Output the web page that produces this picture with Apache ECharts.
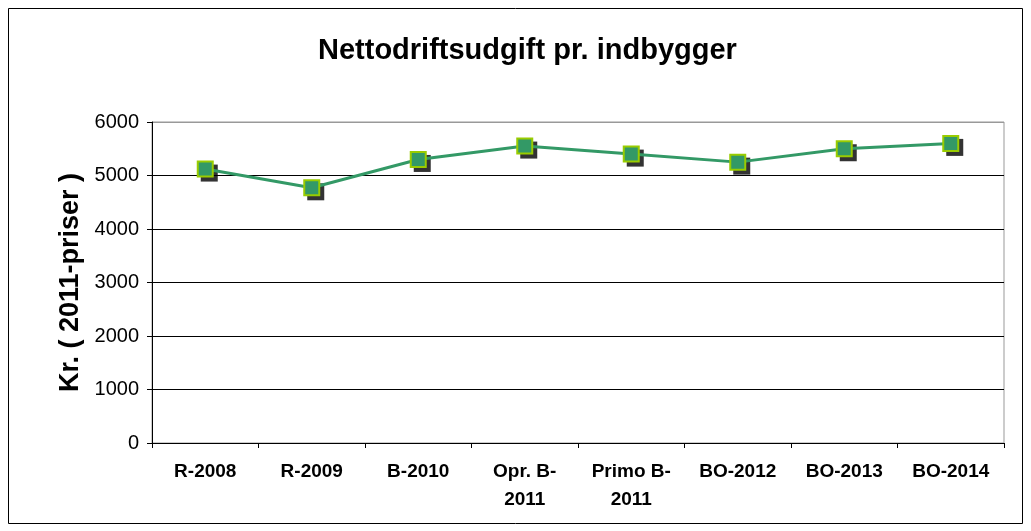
<!DOCTYPE html>
<html>
<head>
<meta charset="utf-8">
<title>Nettodriftsudgift pr. indbygger</title>
<script src="https://cdn.jsdelivr.net/npm/echarts@6/dist/echarts.min.js"></script>
<style>
    html, body { margin: 0; padding: 0; background: #fff; }
</style>
</head>
<body>
<div id="main" style="width: 1031px;height:531px;"></div>
<script type="text/javascript">
    // kategorier og værdier
    var categories = ['R-2008', 'R-2009', 'B-2010', 'Opr. B-\n2011', 'Primo B-\n2011', 'BO-2012', 'BO-2013', 'BO-2014'];
    var values = [5120, 4770, 5300, 5550, 5400, 5250, 5500, 5600];
    var yTicks = [0, 1000, 2000, 3000, 4000, 5000, 6000];

    var myChart = echarts.init(document.getElementById('main'));

    var option = {
        backgroundColor: '#fff',
        animation: false,
        textStyle: { fontFamily: 'Liberation Sans, Arial, sans-serif' },
        title: {
            text: 'Nettodriftsudgift pr. indbygger',
            left: 313,
            top: 31,
            textStyle: { fontSize: 29, fontWeight: 'bold', color: '#000' }
        },
        graphic: [{
            type: 'rect',
            shape: { x: 8.5, y: 8.5, width: 1014, height: 515 },
            style: { fill: null, stroke: '#000', lineWidth: 1 },
            silent: true
        }],
        grid: {
            left: 152,
            right: 27,
            top: 122,
            bottom: 88,
            show: true,
            borderColor: '#999',
            borderWidth: 1
        },
        xAxis: {
            type: 'category',
            data: categories,
            boundaryGap: true,
            axisLine: { lineStyle: { color: '#000', width: 1 } },
            axisTick: { show: true, inside: false, length: 5, lineStyle: { color: '#000' } },
            axisLabel: {
                color: '#000',
                fontSize: 19,
                fontWeight: 'bold',
                margin: 15,
                lineHeight: 28,
                interval: 0
            }
        },
        yAxis: {
            type: 'value',
            min: yTicks[0],
            max: yTicks[yTicks.length - 1],
            interval: 1000,
            name: 'Kr. ( 2011-priser )',
            nameLocation: 'middle',
            nameGap: 68,
            nameTextStyle: { fontSize: 27, fontWeight: 'bold', color: '#000' },
            axisLine: { show: true, lineStyle: { color: '#000', width: 1 } },
            axisTick: { show: true, length: 5, lineStyle: { color: '#000' } },
            axisLabel: {
                color: '#000',
                fontSize: 20,
                margin: 13,
                formatter: function (v) { return String(v); }
            },
            splitLine: {
                show: true,
                lineStyle: { color: ['#000', '#000', '#000', '#000', '#000', '#000', '#999'], width: 1 }
            }
        },
        series: [
            {
                // skygge bag markørerne
                type: 'scatter',
                data: values,
                symbol: 'rect',
                symbolSize: 17,
                symbolOffset: [4, 4],
                itemStyle: { color: '#000' },
                z: 2,
                silent: true
            },
            {
                type: 'line',
                data: values,
                symbol: 'rect',
                symbolSize: 15,
                z: 3,
                lineStyle: { color: '#339966', width: 3 },
                itemStyle: {
                    color: '#339966',
                    borderColor: '#99CC00',
                    borderWidth: 2
                }
            }
        ]
    };

    myChart.setOption(option);
</script>
</body>
</html>
